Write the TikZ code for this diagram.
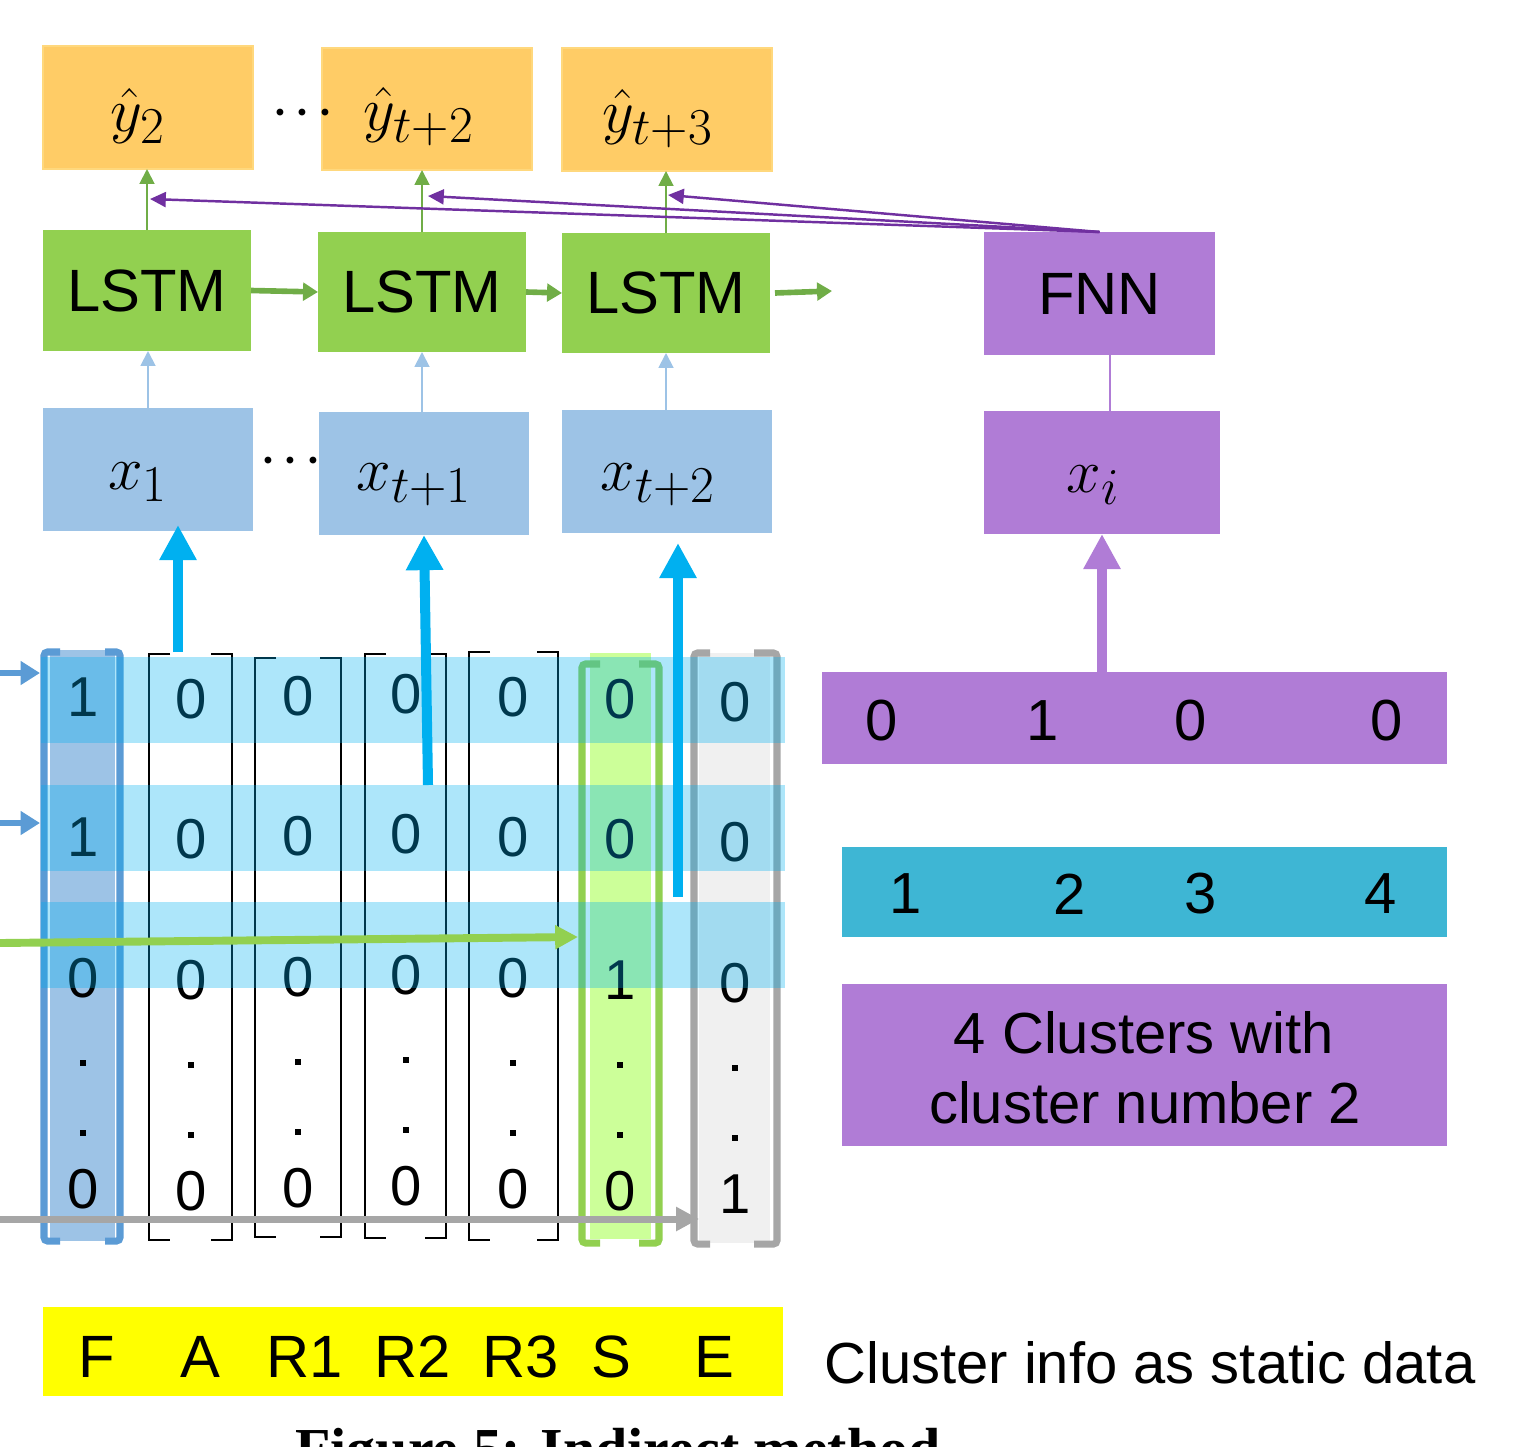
\documentclass[tikz,border=0pt]{standalone}
\usepackage{fontspec}
\setmainfont{Liberation Sans}
\newfontfamily\captionserif{Liberation Serif}
\usetikzlibrary{arrows.meta}

\definecolor{yhatfill}{RGB}{255,204,102}
\definecolor{yhatedge}{RGB}{255,216,125}
\definecolor{lstmfill}{RGB}{146,208,80}
\definecolor{lstmarrow}{RGB}{112,173,71}
\definecolor{xfill}{RGB}{157,195,230}
\definecolor{fnnfill}{RGB}{176,124,214}
\definecolor{fnnarrow}{RGB}{112,48,160}
\definecolor{rowband}{RGB}{0,176,240}
\definecolor{firstcol}{RGB}{91,155,213}
\definecolor{firstfill}{RGB}{157,195,230}
\definecolor{scolfill}{RGB}{204,255,153}
\definecolor{scoledge}{RGB}{146,208,80}
\definecolor{ecolfill}{RGB}{240,240,240}
\definecolor{ecoledge}{RGB}{166,166,166}
\definecolor{clusterteal}{RGB}{62,182,212}
\definecolor{featbar}{RGB}{255,255,0}

\tikzset{
  block/.style 2 args={inner sep=0pt, outer sep=0pt,
    minimum width=#1*0.02cm, minimum height=#2*0.02cm},
  bigtext/.style={font=\fontsize{34}{40}\selectfont},
  midtext/.style={font=\fontsize{33}{40}\selectfont},
  cell/.style={font=\fontsize{32}{36}\selectfont, inner sep=0pt},
  % math fonts stop growing at 24.88pt, so the labels are scaled up instead
  mathlab/.style={font=\fontsize{24.88}{28}\selectfont, inner sep=0pt, scale=1.42, transform shape},
  ellipsis/.style={font=\fontsize{24}{28}\selectfont\boldmath, inner sep=0pt},
  dotcell/.style={fill=black, inner sep=0pt, minimum size=6*0.02cm},
  thinarrow/.style={line width=1.1pt, -{Triangle[width=8.5pt,length=8.5pt]}},
  chainarrow/.style={draw=lstmarrow, line width=3.2pt, -{Triangle[width=10pt,length=8.5pt]}},
  fatarrow/.style={line width=5.7pt, -{Triangle[width=20pt,length=20pt]}},
  feedarrow/.style={line width=4.2pt, -{Triangle[width=13pt,length=13pt]}},
  blackbracket/.style={draw=black, line width=0.9pt},
  colorbracket/.style={line width=4pt, rounded corners=2pt},
}

\begin{document}
\begin{tikzpicture}[x=0.02cm, y=-0.02cm]
\useasboundingbox (0,0) rectangle (1527,1446);

% ---------- output boxes ----------
\node[block={210}{123}, fill=yhatfill, draw=yhatedge, line width=0.6pt] (yb1) at (148,107.5) {};
\node[block={210}{122}, fill=yhatfill, draw=yhatedge, line width=0.6pt] (yb2) at (427,109) {};
\node[block={210}{123}, fill=yhatfill, draw=yhatedge, line width=0.6pt] (yb3) at (667,109.5) {};
\node[mathlab] (yl1) at (138,116) {$\hat{y}_{2}$};
\node[mathlab] (yl2) at (419,117) {$\hat{y}_{t+2}$};
\node[mathlab] (yl3) at (658,119) {$\hat{y}_{t+3}$};
\node[ellipsis] (ydots) at (303,113) {$\cdots$};

% ---------- LSTM chain ----------
\node[block={208}{121}, fill=lstmfill, bigtext] (ls1) at (147,290.5) {LSTM};
\node[block={208}{120}, fill=lstmfill, bigtext] (ls2) at (422,292) {LSTM};
\node[block={208}{120}, fill=lstmfill, bigtext] (ls3) at (666,293) {LSTM};
\coordinate (lsout) at (832,291);

\draw[chainarrow] (ls1.east) -- (ls2.west);
\draw[chainarrow] (ls2.east) -- (ls3.west);
\draw[chainarrow] ([xshift=5*0.02cm]ls3.east) -- (lsout);

\draw[thinarrow, draw=lstmarrow] (ls1.north) -- (ls1.north |- yb1.south);
\draw[thinarrow, draw=lstmarrow] (ls2.north) -- (ls2.north |- yb2.south);
\draw[thinarrow, draw=lstmarrow] (ls3.north) -- (ls3.north |- yb3.south);

% ---------- input boxes ----------
\node[block={210}{123}, fill=xfill] (xb1) at (148,469.5) {};
\node[block={210}{123}, fill=xfill] (xb2) at (424,473.5) {};
\node[block={210}{123}, fill=xfill] (xb3) at (667,471.5) {};
\node[mathlab] (xl1) at (138,482) {$x_{1}$};
\node[mathlab] (xl2) at (414,485) {$x_{t+1}$};
\node[mathlab] (xl3) at (658,485) {$x_{t+2}$};
\node[ellipsis] (xdots) at (291,461) {$\cdots$};

\draw[thinarrow, draw=xfill] (xb1.north) -- (xb1.north |- ls1.south);
\draw[thinarrow, draw=xfill] (xb2.north -| ls2.south) -- (ls2.south);
\draw[thinarrow, draw=xfill] (xb3.north -| ls3.south) -- (ls3.south);

% ---------- static branch ----------
\node[block={231}{123}, fill=fnnfill, bigtext] (fnn) at (1099.5,293.5) {FNN};
\node[block={236}{123}, fill=fnnfill] (xi) at (1102,472.5) {};
\node[mathlab] (xil) at (1093,485) {$x_{i}$};
\draw[draw=fnnfill, line width=1.2pt] ([xshift=8*0.02cm]xi.north) -- ([xshift=8*0.02cm]xi.north |- fnn.south);

\coordinate (hit1) at (150,199);
\coordinate (hit2) at (428,196);
\coordinate (hit3) at (668,195);
\foreach \h in {hit1,hit2,hit3}
  \draw[draw=fnnarrow, line width=1.4pt, -{Triangle[width=8.5pt,length=9pt]}] (fnn.north) -- (\h);

\node[block={625}{92}, fill=fnnfill] (onehot) at (1134.5,718) {};
\foreach \v/\px [count=\k] in {0/882,1/1043,0/1191,0/1387}
  \node[midtext, inner sep=0pt] (oh\k) at (\px,721) {\v};
\draw[draw=fnnfill, fatarrow] (xi.south |- onehot.north) -- (xi.south);

\node[block={605}{90}, fill=clusterteal] (clusters) at (1144.5,892) {};
\foreach \v/\px in {1/906,2/1070,3/1201,4/1381}
  \node[midtext, inner sep=0pt] (cl\v) at (\px,894) {\v};

\node[block={605}{162}, fill=fnnfill] (clnote) at (1144.5,1065) {};
\node[midtext, anchor=base, inner sep=0pt] (clnote1) at (1144,1053) {4 Clusters with};
\node[midtext, anchor=base, inner sep=0pt] (clnote2) at (1145,1123) {cluster number 2};

% ---------- one-hot matrix ----------
% column extents
\node[block={84}{597}] (fcol) at (82,946.5) {};
\node[block={85}{595}] (scol) at (620.5,949.5) {};
\node[block={91}{598}] (ecol) at (735.5,949) {};

% column fills
\node[block={67}{593}, fill=firstfill, draw=white, line width=0.8pt] (ffill) at (82.5,945.5) {};
\node[block={63}{588}, fill=scolfill, draw=white, line width=0.8pt] (sfill) at (620.5,946) {};
\node[block={71}{590}, fill=ecolfill] (efill) at (734.5,948) {};

% coloured brackets
\draw[colorbracket, draw=firstcol] (60,652) -- (44,652) -- (44,1241) -- (60,1241);
\draw[colorbracket, draw=firstcol] (105,652) -- (120,652) -- (120,1241) -- (105,1241);
\draw[colorbracket, draw=scoledge] (600,664) -- (582,664) -- (582,1243) -- (600,1243);
\draw[colorbracket, draw=scoledge] (639,664) -- (659,664) -- (659,1243) -- (639,1243);
\draw[colorbracket, draw=ecoledge] (710,653) -- (694,653) -- (694,1244) -- (710,1244);
\draw[colorbracket, draw=ecoledge] (754,653) -- (777,653) -- (777,1244) -- (754,1244);

% black brackets
\foreach \xl/\xr/\tp/\bt in {149/232/654/1240, 255/341/658/1237, 365/446/654/1238, 469/558/652/1240} {
  \draw[blackbracket] ({\xl+21},\tp) -- (\xl,\tp) -- (\xl,\bt) -- ({\xl+21},\bt);
  \draw[blackbracket] ({\xr-21},\tp) -- (\xr,\tp) -- (\xr,\bt) -- ({\xr-21},\bt);
}

% entries
\foreach \nm/\cx/\dy/\a/\b/\c/\d in {F/83/0/1/1/0/0, A/191/2/0/0/0/0, Ra/298/-1/0/0/0/0,
    Rb/406/-3/0/0/0/0, Rc/513/0/0/0/0/0, S/620/2/0/0/1/0, E/735/5/0/0/0/1} {
  \node[cell] (\nm-1) at (\cx,{697+\dy}) {\a};
  \node[cell] (\nm-2) at (\cx,{837+\dy}) {\b};
  \node[cell] (\nm-3) at (\cx,{978+\dy}) {\c};
  \node[dotcell] (\nm-d1) at (\cx,{1063+\dy}) {};
  \node[dotcell] (\nm-d2) at (\cx,{1133+\dy}) {};
  \node[cell] (\nm-4) at (\cx,{1189+\dy}) {\d};
}

% highlighted rows
\node[block={744}{86}, fill=rowband, fill opacity=0.32] (band1) at (413,700) {};
\node[block={744}{86}, fill=rowband, fill opacity=0.32] (band2) at (413,828) {};
\node[block={744}{86}, fill=rowband, fill opacity=0.32] (band3) at (413,945) {};

% rows feeding the LSTM inputs
\coordinate (row1src) at (178,652);
\coordinate (row3src) at (678,897);
\draw[fatarrow, draw=rowband, shorten >=-6*0.02cm] (row1src) -- (row1src |- xb1.south);
\draw[fatarrow, draw=rowband] ([xshift=15*0.02cm]band2.north) -- (xb2.south);
\draw[fatarrow, draw=rowband, shorten >=10*0.02cm] (row3src) -- (row3src |- xb3.south);

% feature inputs from the left
\coordinate (fin1) at (0,673);
\coordinate (fin2) at (0,823);
\coordinate (sin) at (0,943);
\coordinate (ein) at (0,1219);
\draw[draw=firstcol, line width=3pt, -{Triangle[width=13pt,length=11pt]}] (fin1) -- (fin1 -| fcol.west);
\draw[draw=firstcol, line width=3pt, -{Triangle[width=13pt,length=11pt]}] (fin2) -- (fin2 -| fcol.west);
\draw[feedarrow, draw=scoledge, line width=4.5pt] (sin) -- ([yshift=6*0.02cm]sin -| scol.west);
\draw[feedarrow, draw=ecoledge, line width=4pt] (ein) -- (ein -| efill.west);

% ---------- feature names ----------
\node[block={740}{89}, fill=featbar] (feat) at (413,1351.5) {};
\foreach \t/\px in {F/97, A/200, R1/305, R2/413, R3/521, S/611, E/714}
  \node[bigtext, anchor=base, inner sep=0pt] (f\t) at (\px,1377) {\t};

\node[midtext, anchor=base west, inner sep=0pt] (static) at (824,1383) {Cluster info as static data};

\node[anchor=base west, inner sep=0pt, font=\captionserif\bfseries\fontsize{33}{38}\selectfont]
  (caption) at (295,1468) {Figure 5: Indirect method};
\end{tikzpicture}
\end{document}
